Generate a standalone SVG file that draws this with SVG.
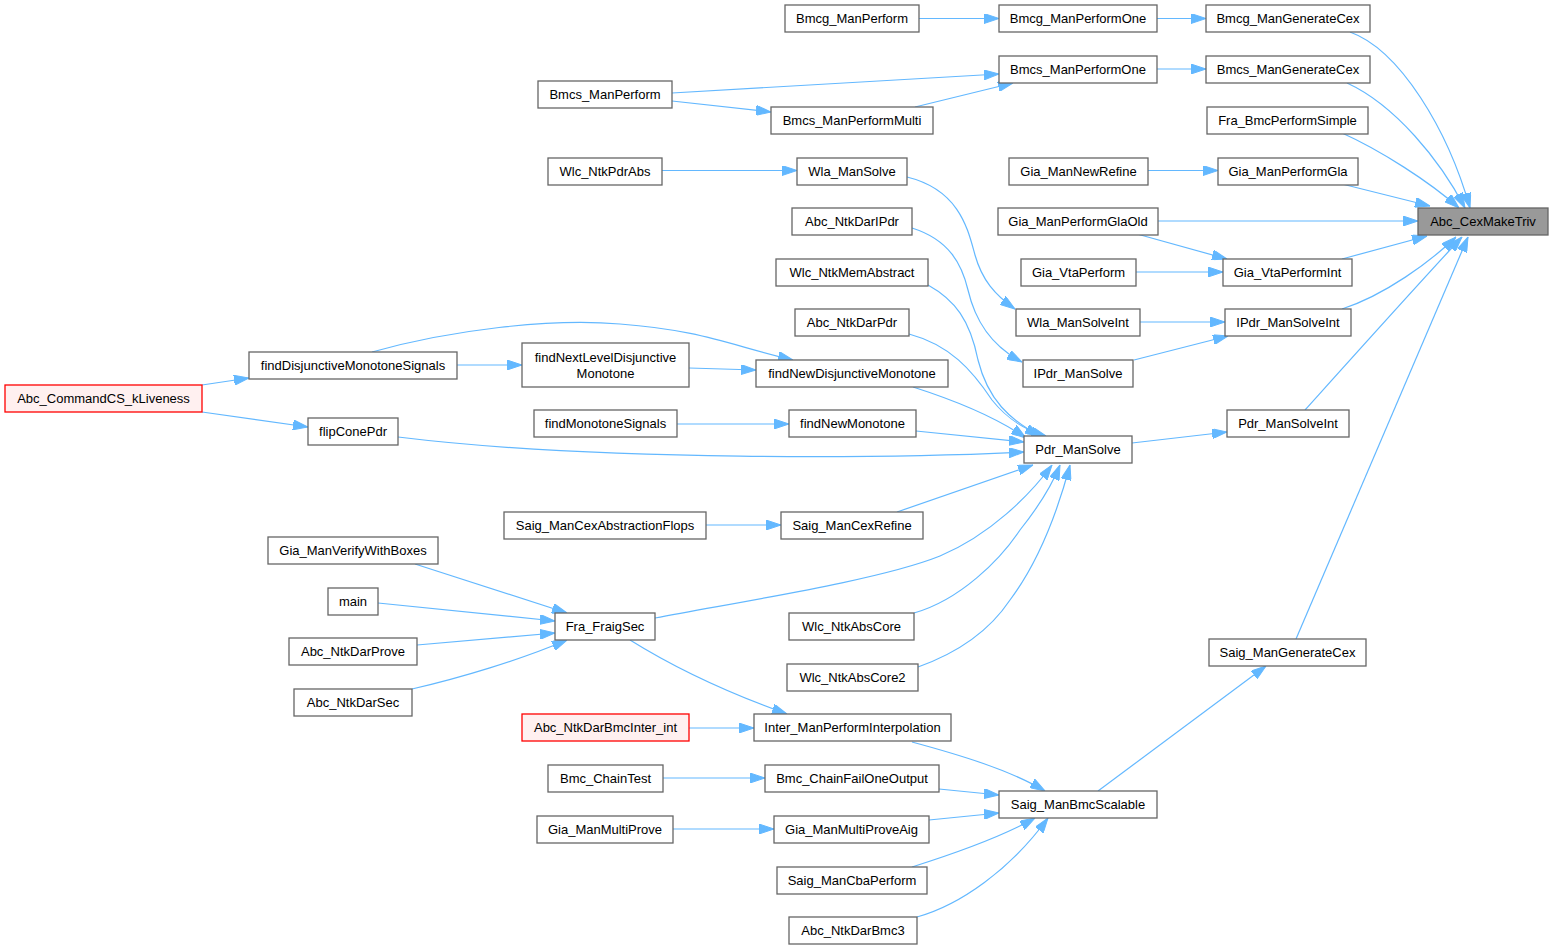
<svg xmlns="http://www.w3.org/2000/svg" width="1553" height="949" viewBox="0 0 1553 949">
<style>
.n rect{fill:#ffffff;stroke:#666666;stroke-width:1.3}
.n text{font-family:"Liberation Sans",Arial,sans-serif;font-size:13px;fill:#000000;text-anchor:middle}
.root rect{fill:#999999}
.red rect{fill:#fff0f0;stroke:#ff0000}
.e path{fill:none;stroke:#63b8ff;stroke-width:1.2;marker-end:url(#ah)}
</style>
<defs>
<marker id="ah" viewBox="0 0 15 10" refX="15" refY="5" markerWidth="15" markerHeight="10" markerUnits="userSpaceOnUse" orient="auto">
<path d="M0,0 L15,5 L0,10 z" fill="#63b8ff" stroke="#63b8ff" stroke-width="1"/>
</marker>
</defs>
<rect width="1553" height="949" fill="#ffffff"/>
<g id="edges" class="e">
<path d="M919,18.5 L999,18.5"/>
<path d="M1157,18.5 L1206,18.5"/>
<path d="M1157,69 L1206,69"/>
<path d="M672,93 L999,74"/>
<path d="M672,101 L771,112"/>
<path d="M915,107 L1013,83"/>
<path d="M1350,32 C1400,50 1448,130 1470,208"/>
<path d="M1347,83 C1395,105 1440,160 1465,208"/>
<path d="M1342,133 C1380,150 1430,182 1459,208"/>
<path d="M1342,184 L1430,206"/>
<path d="M1158,221 L1418,221"/>
<path d="M1342,259 L1427,236"/>
<path d="M1342,309 C1385,295 1430,262 1456,237"/>
<path d="M1305,410 C1350,360 1420,282 1462,237"/>
<path d="M1296,639 L1468,237"/>
<path d="M1148,170.5 L1218,170.5"/>
<path d="M1137,234 L1227,259"/>
<path d="M1136,272 L1223,272"/>
<path d="M1140,322 L1225,322"/>
<path d="M1134,360 L1228,336"/>
<path d="M662,170.5 L797,170.5"/>
<path d="M907,177 C960,190 968,230 975,255 C982,280 995,295 1015,309"/>
<path d="M912,228 C950,240 962,265 968,290 C975,320 990,345 1022,362"/>
<path d="M928,285 C955,300 970,320 978,360 C988,400 1010,420 1040,436"/>
<path d="M909,334 C950,345 972,370 992,400 C1008,420 1025,430 1046,436"/>
<path d="M913,387 C960,402 1000,420 1026,438"/>
<path d="M916,431 L1024,442"/>
<path d="M398,437 C600,462 900,458 1024,452"/>
<path d="M897,512 L1033,465"/>
<path d="M655,618 C750,600 880,580 940,556 C990,535 1030,495 1052,465"/>
<path d="M914,613 C960,600 1000,560 1020,530 C1040,505 1052,485 1060,465"/>
<path d="M918,667 C960,652 990,630 1010,600 C1040,560 1058,510 1070,465"/>
<path d="M706,525 L781,525"/>
<path d="M677,424 L789,424"/>
<path d="M689,368 L756,370"/>
<path d="M457,365 L522,365"/>
<path d="M372,352 C450,330 550,318 620,324 C700,330 730,345 793,360"/>
<path d="M202,385 L249,378"/>
<path d="M202,412 L308,427"/>
<path d="M415,564 L567,613"/>
<path d="M378,603 L555,621"/>
<path d="M417,645 L555,633"/>
<path d="M412,689 C460,678 520,660 567,640"/>
<path d="M630,640 C670,665 720,690 787,714"/>
<path d="M689,728 L754,728"/>
<path d="M912,742 C960,755 1010,770 1045,791"/>
<path d="M663,778 L765,778"/>
<path d="M939,789 L999,795"/>
<path d="M673,829 L774,829"/>
<path d="M929,820 L999,813"/>
<path d="M912,867 C950,855 1000,838 1035,818"/>
<path d="M917,917 C960,905 1010,870 1048,818"/>
<path d="M1098,791 L1266,666"/>
<path d="M1132,443 L1227,432"/>
</g>
<g id="Abc_CexMakeTriv" class="n root"><rect x="1418" y="208" width="130" height="27"/><text x="1483" y="226">Abc_CexMakeTriv</text></g>
<g id="Bmcg_ManGenerateCex" class="n"><rect x="1206" y="5" width="164" height="27"/><text x="1288" y="23">Bmcg_ManGenerateCex</text></g>
<g id="Bmcs_ManGenerateCex" class="n"><rect x="1206" y="56" width="164" height="27"/><text x="1288" y="74">Bmcs_ManGenerateCex</text></g>
<g id="Fra_BmcPerformSimple" class="n"><rect x="1207" y="107" width="161" height="27"/><text x="1287.5" y="125">Fra_BmcPerformSimple</text></g>
<g id="Gia_ManPerformGla" class="n"><rect x="1218" y="158" width="140" height="27"/><text x="1288" y="176">Gia_ManPerformGla</text></g>
<g id="Gia_VtaPerformInt" class="n"><rect x="1223" y="259" width="129" height="27"/><text x="1287.5" y="277">Gia_VtaPerformInt</text></g>
<g id="IPdr_ManSolveInt" class="n"><rect x="1225" y="309" width="126" height="27"/><text x="1288" y="327">IPdr_ManSolveInt</text></g>
<g id="Pdr_ManSolveInt" class="n"><rect x="1227" y="410" width="122" height="27"/><text x="1288" y="428">Pdr_ManSolveInt</text></g>
<g id="Saig_ManGenerateCex" class="n"><rect x="1209" y="639" width="157" height="27"/><text x="1287.5" y="657">Saig_ManGenerateCex</text></g>
<g id="Bmcg_ManPerformOne" class="n"><rect x="999" y="5" width="158" height="27"/><text x="1078" y="23">Bmcg_ManPerformOne</text></g>
<g id="Bmcs_ManPerformOne" class="n"><rect x="999" y="56" width="158" height="27"/><text x="1078" y="74">Bmcs_ManPerformOne</text></g>
<g id="Gia_ManNewRefine" class="n"><rect x="1009" y="158" width="139" height="27"/><text x="1078.5" y="176">Gia_ManNewRefine</text></g>
<g id="Gia_ManPerformGlaOld" class="n"><rect x="998" y="208" width="160" height="27"/><text x="1078" y="226">Gia_ManPerformGlaOld</text></g>
<g id="Gia_VtaPerform" class="n"><rect x="1021" y="259" width="115" height="27"/><text x="1078.5" y="277">Gia_VtaPerform</text></g>
<g id="Wla_ManSolveInt" class="n"><rect x="1016" y="309" width="124" height="27"/><text x="1078" y="327">Wla_ManSolveInt</text></g>
<g id="IPdr_ManSolve" class="n"><rect x="1023" y="360" width="110" height="27"/><text x="1078" y="378">IPdr_ManSolve</text></g>
<g id="Pdr_ManSolve" class="n"><rect x="1024" y="436" width="108" height="27"/><text x="1078" y="454">Pdr_ManSolve</text></g>
<g id="Saig_ManBmcScalable" class="n"><rect x="999" y="791" width="158" height="27"/><text x="1078" y="809">Saig_ManBmcScalable</text></g>
<g id="Bmcg_ManPerform" class="n"><rect x="785" y="5" width="134" height="27"/><text x="852" y="23">Bmcg_ManPerform</text></g>
<g id="Bmcs_ManPerformMulti" class="n"><rect x="771" y="107" width="162" height="27"/><text x="852" y="125">Bmcs_ManPerformMulti</text></g>
<g id="Wla_ManSolve" class="n"><rect x="797" y="158" width="110" height="27"/><text x="852" y="176">Wla_ManSolve</text></g>
<g id="Abc_NtkDarIPdr" class="n"><rect x="792" y="208" width="120" height="27"/><text x="852" y="226">Abc_NtkDarIPdr</text></g>
<g id="Wlc_NtkMemAbstract" class="n"><rect x="776" y="259" width="152" height="27"/><text x="852" y="277">Wlc_NtkMemAbstract</text></g>
<g id="Abc_NtkDarPdr" class="n"><rect x="795" y="309" width="114" height="27"/><text x="852" y="327">Abc_NtkDarPdr</text></g>
<g id="findNewDisjunctiveMonotone" class="n"><rect x="756" y="360" width="192" height="27"/><text x="852" y="378">findNewDisjunctiveMonotone</text></g>
<g id="findNewMonotone" class="n"><rect x="789" y="410" width="127" height="27"/><text x="852.5" y="428">findNewMonotone</text></g>
<g id="Saig_ManCexRefine" class="n"><rect x="781" y="512" width="142" height="27"/><text x="852" y="530">Saig_ManCexRefine</text></g>
<g id="Wlc_NtkAbsCore" class="n"><rect x="789" y="613" width="125" height="27"/><text x="851.5" y="631">Wlc_NtkAbsCore</text></g>
<g id="Wlc_NtkAbsCore2" class="n"><rect x="787" y="664" width="131" height="27"/><text x="852.5" y="682">Wlc_NtkAbsCore2</text></g>
<g id="Inter_ManPerformInterpolation" class="n"><rect x="754" y="714" width="197" height="27"/><text x="852.5" y="732">Inter_ManPerformInterpolation</text></g>
<g id="Bmc_ChainFailOneOutput" class="n"><rect x="765" y="765" width="174" height="27"/><text x="852" y="783">Bmc_ChainFailOneOutput</text></g>
<g id="Gia_ManMultiProveAig" class="n"><rect x="774" y="816" width="155" height="27"/><text x="851.5" y="834">Gia_ManMultiProveAig</text></g>
<g id="Saig_ManCbaPerform" class="n"><rect x="777" y="867" width="150" height="27"/><text x="852" y="885">Saig_ManCbaPerform</text></g>
<g id="Abc_NtkDarBmc3" class="n"><rect x="789" y="917" width="128" height="27"/><text x="853" y="935">Abc_NtkDarBmc3</text></g>
<g id="Bmcs_ManPerform" class="n"><rect x="538" y="81" width="134" height="27"/><text x="605" y="99">Bmcs_ManPerform</text></g>
<g id="Wlc_NtkPdrAbs" class="n"><rect x="548" y="158" width="114" height="27"/><text x="605" y="176">Wlc_NtkPdrAbs</text></g>
<g id="findNextLevelDisjunctiveMonotone" class="n"><rect x="522" y="343" width="167" height="44"/><text x="605.5" y="362">findNextLevelDisjunctive</text><text x="605.5" y="378">Monotone</text></g>
<g id="findMonotoneSignals" class="n"><rect x="534" y="410" width="143" height="27"/><text x="605.5" y="428">findMonotoneSignals</text></g>
<g id="Saig_ManCexAbstractionFlops" class="n"><rect x="504" y="512" width="202" height="27"/><text x="605" y="530">Saig_ManCexAbstractionFlops</text></g>
<g id="Fra_FraigSec" class="n"><rect x="555" y="613" width="100" height="27"/><text x="605" y="631">Fra_FraigSec</text></g>
<g id="Abc_NtkDarBmcInter_int" class="n red"><rect x="522" y="714" width="167" height="27"/><text x="605.5" y="732">Abc_NtkDarBmcInter_int</text></g>
<g id="Bmc_ChainTest" class="n"><rect x="548" y="765" width="115" height="27"/><text x="605.5" y="783">Bmc_ChainTest</text></g>
<g id="Gia_ManMultiProve" class="n"><rect x="537" y="816" width="136" height="27"/><text x="605" y="834">Gia_ManMultiProve</text></g>
<g id="findDisjunctiveMonotoneSignals" class="n"><rect x="249" y="352" width="208" height="27"/><text x="353" y="370">findDisjunctiveMonotoneSignals</text></g>
<g id="flipConePdr" class="n"><rect x="308" y="418" width="90" height="27"/><text x="353" y="436">flipConePdr</text></g>
<g id="Gia_ManVerifyWithBoxes" class="n"><rect x="268" y="537" width="170" height="27"/><text x="353" y="555">Gia_ManVerifyWithBoxes</text></g>
<g id="main" class="n"><rect x="328" y="588" width="50" height="27"/><text x="353" y="606">main</text></g>
<g id="Abc_NtkDarProve" class="n"><rect x="289" y="638" width="128" height="27"/><text x="353" y="656">Abc_NtkDarProve</text></g>
<g id="Abc_NtkDarSec" class="n"><rect x="294" y="689" width="118" height="27"/><text x="353" y="707">Abc_NtkDarSec</text></g>
<g id="Abc_CommandCS_kLiveness" class="n red"><rect x="5" y="385" width="197" height="27"/><text x="103.5" y="403">Abc_CommandCS_kLiveness</text></g>
</svg>
